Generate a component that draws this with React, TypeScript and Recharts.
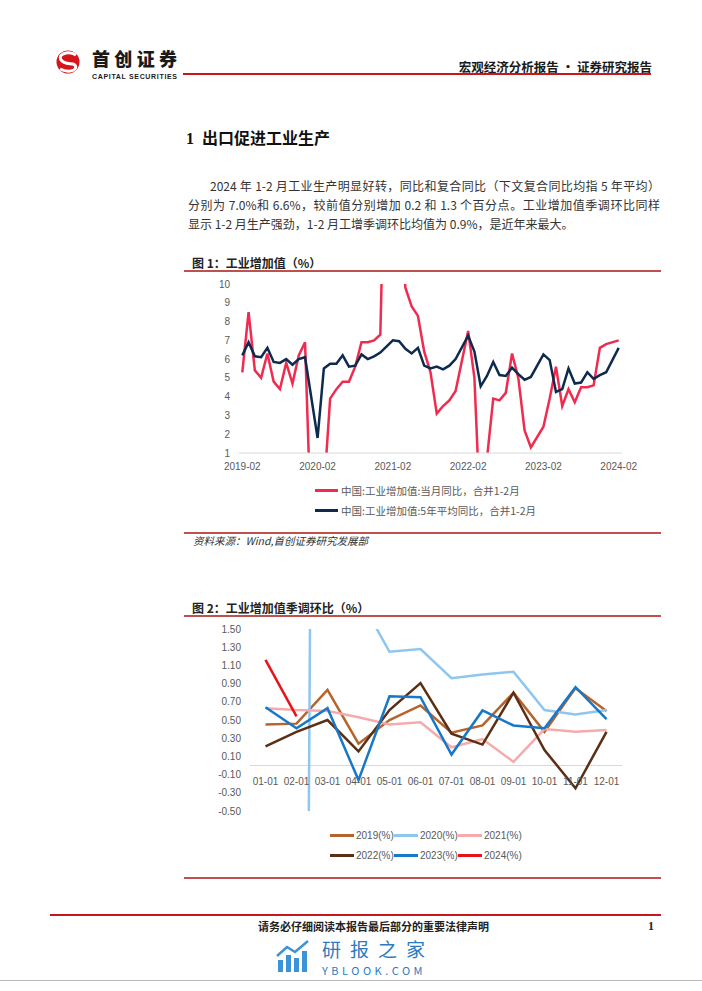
import React from 'react'
import { LineChart, Line, XAxis, YAxis, Legend, ReferenceLine } from 'recharts'

// chart 1: 工业增加值, monthly, Jan folded into Jan-Feb (null)
const months = [
  '2019-02', '2019-03', '2019-04', '2019-05', '2019-06', '2019-07', '2019-08', '2019-09', '2019-10', '2019-11', '2019-12',
  '2020-01', '2020-02', '2020-03', '2020-04', '2020-05', '2020-06', '2020-07', '2020-08', '2020-09', '2020-10', '2020-11', '2020-12',
  '2021-01', '2021-02', '2021-03', '2021-04', '2021-05', '2021-06', '2021-07', '2021-08', '2021-09', '2021-10', '2021-11', '2021-12',
  '2022-01', '2022-02', '2022-03', '2022-04', '2022-05', '2022-06', '2022-07', '2022-08', '2022-09', '2022-10', '2022-11', '2022-12',
  '2023-01', '2023-02', '2023-03', '2023-04', '2023-05', '2023-06', '2023-07', '2023-08', '2023-09', '2023-10', '2023-11', '2023-12',
  '2024-01', '2024-02',
]
const ivaYoY = [
  5.3, 8.5, 5.4, 5.0, 6.3, 4.8, 4.4, 5.8, 4.7, 6.2, 6.9,
  null, -13.5, -1.1, 3.9, 4.4, 4.8, 4.8, 5.6, 6.9, 6.9, 7.0, 7.3,
  null, 35.1, 14.1, 9.8, 8.8, 8.3, 6.4, 5.3, 3.1, 3.5, 3.8, 4.3,
  null, 7.5, 5.0, -2.9, 0.7, 3.9, 3.8, 4.2, 6.3, 5.0, 2.2, 1.3,
  null, 2.4, 3.9, 5.6, 3.5, 4.4, 3.7, 4.5, 4.5, 4.6, 6.6, 6.8,
  null, 7.0,
]
const ivaAvg5y = [
  6.2, 6.9, 6.15, 6.1, 6.6, 5.85, 5.8, 6.0, 5.7, 6.0, 6.1,
  null, 1.8, 5.5, 5.75, 5.75, 6.2, 5.6, 5.65, 6.25, 6.0, 6.15, 6.35,
  null, 7.0, 6.95, 6.55, 6.3, 6.6, 5.65, 5.5, 5.6, 5.45, 5.65, 6.0,
  null, 7.25, 6.4, 4.55, 5.1, 5.85, 5.15, 5.1, 5.55, 5.2, 4.9, 5.05,
  null, 6.25, 5.95, 4.25, 4.4, 5.5, 4.7, 4.75, 5.3, 4.95, 5.15, 5.3,
  null, 6.6,
]
const yTicks1 = [1, 2, 3, 4, 5, 6, 7, 8, 9, 10]
const legendOrder1 = ['yoy', 'avg']

// chart 2: 季调环比 by year
const monthDays = ['01-01', '02-01', '03-01', '04-01', '05-01', '06-01', '07-01', '08-01', '09-01', '10-01', '11-01', '12-01']
const mom2019 = [0.45, 0.46, 0.83, 0.24, 0.5, 0.66, 0.36, 0.44, 0.8, 0.37, 0.85, 0.6]
const mom2020 = [null, -22, 32, 1.86, 1.25, 1.28, 0.96, 1.0, 1.03, 0.61, 0.56, 0.61]
const mom2021 = [0.63, 0.61, 0.6, 0.53, 0.45, 0.475, 0.2, 0.29, 0.04, 0.4, 0.37, 0.39]
const mom2022 = [0.21, 0.37, 0.5, 0.155, 0.61, 0.906, 0.35, 0.23, 0.8, 0.17, -0.25, 0.37]
const mom2023 = [0.64, 0.41, 0.63, -0.16, 0.76, 0.75, 0.12, 0.605, 0.44, 0.41, 0.86, 0.51]
const mom2024 = [1.16, 0.54, null, null, null, null, null, null, null, null, null, null]
const yTicks2 = [-0.5, -0.3, -0.1, 0.1, 0.3, 0.5, 0.7, 0.9, 1.1, 1.3, 1.5]
const legendOrder2 = ['y2019', 'y2020', 'y2021', 'y2022', 'y2023', 'y2024']

const data1 = months.map((m, i) => ({ month: m, yoy: ivaYoY[i], avg: ivaAvg5y[i] }))
const data2 = monthDays.map((d, i) => ({
  day: d, y2019: mom2019[i], y2020: mom2020[i], y2021: mom2021[i],
  y2022: mom2022[i], y2023: mom2023[i], y2024: mom2024[i],
}))

const CJK = '"Noto Sans CJK SC", sans-serif'
const NUM = '"Liberation Sans", Arial, sans-serif'
const SERIF = '"Liberation Serif", "Noto Sans CJK SC", serif'
const tickStyle = { fontSize: 10, fill: '#595959', fontFamily: NUM }

// legend sorts by name by default, put the items back in series order
const ordered = (payload: any[] = [], order: string[]) =>
  [...payload].sort((a, b) => order.indexOf(a.dataKey) - order.indexOf(b.dataKey))

const Legend1 = ({ payload }: any) => (
  <div style={{ height: 40, fontFamily: CJK, fontSize: 10.5, color: '#595959' }}>
    {ordered(payload, legendOrder1).map((p: any) => (
      <div key={p.value} style={{ height: 20, display: 'flex', alignItems: 'center', whiteSpace: 'nowrap' }}>
        <span style={{ display: 'inline-block', width: 23, height: 3, background: p.color, marginRight: 3 }} />
        {p.value}
      </div>
    ))}
  </div>
)

const Legend2 = ({ payload }: any) => {
  const items = ordered(payload, legendOrder2)
  const rows = [items.slice(0, 3), items.slice(3, 6)]
  return (
    <div style={{ height: 40, fontFamily: NUM, fontSize: 10, color: '#595959' }}>
      {rows.map((row: any[], r: number) => (
        <div key={r} style={{ height: 20, display: 'flex', alignItems: 'center' }}>
          {row.map((p: any) => (
            <div key={p.value} style={{ width: 64, display: 'flex', alignItems: 'center', whiteSpace: 'nowrap' }}>
              <span style={{ display: 'inline-block', width: 24, height: 3, background: p.color, marginRight: 2 }} />
              {p.value}
            </div>
          ))}
        </div>
      ))}
    </div>
  )
}

const MonthTick = (props: any) => (
  <text x={props.x} y={props.y - 26} textAnchor="middle" fontSize={10} fill="#595959" fontFamily={NUM}>
    {props.payload.value}
  </text>
)

const hr = (top: number, left: number, width: number, color: string, h = 2) => (
  <div style={{ position: 'absolute', top, left, width, height: h, background: color }} />
)

export default function App() {
  return (
    <div style={{ position: 'absolute', left: 0, top: 0, width: 702, height: 991, background: '#fff', overflow: 'hidden' }}>
      {/* header */}
      <svg style={{ position: 'absolute', left: 0, top: 0 }} width={702} height={90}>
        <circle cx={68} cy={62} r={11.5} fill="#D7141A" />
        <path d="M76 55 Q70 51 63 54 Q58 57 62 61 Q66 64 73 64 Q78 66 74 70 Q68 73 60 69" stroke="#fff" strokeWidth={3} fill="none" />
        <text x={92} y={66} fontSize={18} fontWeight={900} fontFamily={CJK} fill="#1a1a1a" textLength={85}>首创证券</text>
        <text x={92} y={78.5} fontSize={7} fontWeight={700} fontFamily={NUM} fill="#1a1a1a" textLength={85}>CAPITAL SECURITIES</text>
        <text x={652} y={71.5} fontSize={12.5} fontWeight={700} fontFamily={CJK} fill="#1a1a1a" textAnchor="end">宏观经济分析报告 · 证券研究报告</text>
      </svg>
      {hr(73, 183, 468, '#C8161D')}

      {/* section title and text */}
      <div style={{ position: 'absolute', left: 186, top: 127, lineHeight: '20px', fontSize: 16, fontWeight: 700, color: '#111', whiteSpace: 'nowrap' }}>
        <span style={{ fontFamily: SERIF }}>1</span>
        <span style={{ fontFamily: CJK, marginLeft: 8 }}>出口促进工业生产</span>
      </div>
      <div style={{ position: 'absolute', left: 188, top: 176, width: 472, fontFamily: CJK, fontSize: 12, lineHeight: '19px', color: '#333' }}>
        <div style={{ textIndent: 22, textAlign: 'justify', textAlignLast: 'justify', whiteSpace: 'nowrap' }}>2024 年 1-2 月工业生产明显好转，同比和复合同比（下文复合同比均指 5 年平均）</div>
        <div style={{ textAlign: 'justify', textAlignLast: 'justify', whiteSpace: 'nowrap' }}>分别为 7.0%和 6.6%，较前值分别增加 0.2 和 1.3 个百分点。工业增加值季调环比同样</div>
        <div style={{ whiteSpace: 'nowrap' }}>显示 1-2 月生产强劲，1-2 月工增季调环比均值为 0.9%，是近年来最大。</div>
      </div>

      {/* figure 1 */}
      <div style={{ position: 'absolute', left: 192, top: 255, lineHeight: '16px', fontSize: 12, fontWeight: 700, fontFamily: CJK, color: '#222', whiteSpace: 'nowrap' }}>图 1：工业增加值（%）</div>
      {hr(269.5, 184, 477, '#C0504D')}
      <div style={{ position: 'absolute', left: 180, top: 275 }}>
        <LineChart width={470} height={250} data={data1} margin={{ top: 9, right: 28, left: 0, bottom: 2 }}>
          <XAxis dataKey="month" interval={11} tickLine={false} tickSize={0} tickMargin={10} height={30}
            axisLine={{ stroke: '#D9D9D9' }} padding={{ left: 3.3, right: 3.3 }} tick={tickStyle} />
          <YAxis domain={[1, 10]} ticks={yTicks1} allowDataOverflow axisLine={false} tickLine={false}
            tickSize={0} tickMargin={9} width={59} tick={tickStyle} />
          <Legend content={<Legend1 />} wrapperStyle={{ top: 205, left: 135, width: 'auto' }} />
          <Line dataKey="yoy" name="中国:工业增加值:当月同比，合并1-2月" stroke="#F02B50" strokeWidth={2.5}
            dot={false} activeDot={false} connectNulls isAnimationActive={false} />
          <Line dataKey="avg" name="中国:工业增加值:5年平均同比，合并1-2月" stroke="#0E2A4D" strokeWidth={2.5}
            dot={false} activeDot={false} connectNulls isAnimationActive={false} />
        </LineChart>
      </div>
      {hr(531.5, 184, 477, '#C0504D')}
      <div style={{ position: 'absolute', left: 193, top: 534, lineHeight: '14px', fontSize: 10.5, fontStyle: 'italic', fontFamily: CJK, color: '#333', whiteSpace: 'nowrap' }}>资料来源：Wind,首创证券研究发展部</div>

      {/* figure 2 */}
      <div style={{ position: 'absolute', left: 192, top: 600, lineHeight: '16px', fontSize: 12, fontWeight: 700, fontFamily: CJK, color: '#222', whiteSpace: 'nowrap' }}>图 2：工业增加值季调环比（%）</div>
      {hr(615, 184, 477, '#C0504D')}
      <div style={{ position: 'absolute', left: 190, top: 620 }}>
        <LineChart width={460} height={245} data={data2} margin={{ top: 9, right: 28, left: 0, bottom: 13 }}>
          <XAxis dataKey="day" interval={0} axisLine={false} tickLine={false} tickSize={0} tickMargin={0} height={1}
            padding={{ left: 15.5, right: 15.5 }} tick={MonthTick} />
          <YAxis domain={[-0.5, 1.5]} ticks={yTicks2} allowDataOverflow axisLine={false} tickLine={false}
            tickSize={0} tickMargin={9} width={60} tick={tickStyle} tickFormatter={(v: number) => v.toFixed(2)} />
          <ReferenceLine y={0} stroke="#D9D9D9" strokeWidth={1} />
          <Legend content={<Legend2 />} wrapperStyle={{ top: 205, left: 140, width: 'auto' }} />
          <Line dataKey="y2019" name="2019(%)" stroke="#B5642D" strokeWidth={2.5} dot={false} activeDot={false} isAnimationActive={false} />
          <Line dataKey="y2020" name="2020(%)" stroke="#8EC6F0" strokeWidth={2.5} dot={false} activeDot={false} isAnimationActive={false} />
          <Line dataKey="y2021" name="2021(%)" stroke="#F5ABAB" strokeWidth={2.5} dot={false} activeDot={false} isAnimationActive={false} />
          <Line dataKey="y2022" name="2022(%)" stroke="#5B2F14" strokeWidth={2.5} dot={false} activeDot={false} isAnimationActive={false} />
          <Line dataKey="y2023" name="2023(%)" stroke="#1878C8" strokeWidth={2.5} dot={false} activeDot={false} isAnimationActive={false} />
          <Line dataKey="y2024" name="2024(%)" stroke="#E5141B" strokeWidth={2.5} dot={false} activeDot={false} isAnimationActive={false} />
        </LineChart>
      </div>
      {hr(877, 184, 477, '#C0504D')}

      {/* footer */}
      {hr(914, 50, 611, '#C8161D')}
      <div style={{ position: 'absolute', left: 258, top: 919, lineHeight: '14px', fontSize: 11, fontWeight: 700, fontFamily: CJK, color: '#222', whiteSpace: 'nowrap' }}>请务必仔细阅读本报告最后部分的重要法律声明</div>
      <div style={{ position: 'absolute', left: 648, top: 919, lineHeight: '14px', fontSize: 12, fontWeight: 700, fontFamily: SERIF, color: '#222' }}>1</div>
      <svg style={{ position: 'absolute', left: 270, top: 937 }} width={48} height={40}>
        <rect x={8} y={23} width={5} height={12} fill="#3D93D6" />
        <rect x={16} y={18} width={5} height={17} fill="#3D93D6" />
        <rect x={24} y={21} width={5} height={14} fill="#3D93D6" />
        <rect x={32} y={14} width={5} height={21} fill="#3D93D6" />
        <path d="M7 19 L17 10 L25 15 L38 4" stroke="#3D93D6" strokeWidth={2.5} fill="none" />
      </svg>
      <div style={{ position: 'absolute', left: 322, top: 939, lineHeight: '19px', fontSize: 19, fontFamily: CJK, color: '#2C7BC0', letterSpacing: 9, whiteSpace: 'nowrap' }}>研报之家</div>
      <div style={{ position: 'absolute', left: 322, top: 964.5, lineHeight: '11px', fontSize: 11, fontFamily: CJK, color: '#2C7BC0', letterSpacing: 3.5, whiteSpace: 'nowrap' }}>YBLOOK.COM</div>
      {hr(980, 0, 702, '#BBBBBB', 1)}
    </div>
  )
}
